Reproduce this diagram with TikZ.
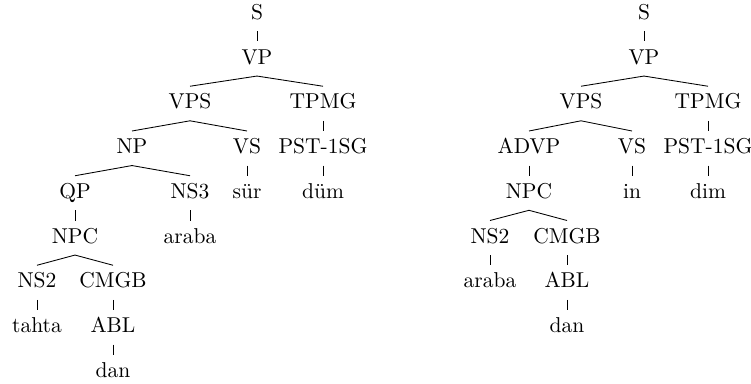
\documentclass[tikz,border=0pt]{standalone}
\usetikzlibrary{positioning}
\tikzset{cat/.style={text height=7pt, text depth=2pt, inner sep=3.333pt}}

\begin{document}
\begin{tikzpicture}[x=0.465pt, y=-20.81pt, every node/.style={cat}]
        \useasboundingbox (0,-0.313) rectangle (751,8.246);
        % first tree
        \node (l-S) at (257,0) {S};
        \node (l-VP) at (257,1) {VP};
        \node (l-VPS) at (190,2) {VPS};
        \node (l-TPMG) at (323,2) {TPMG};
        \node (l-NP) at (132,3) {NP};
        \node (l-VS) at (247,3) {VS};
        \node (l-PST) at (323,3) {PST-1SG};
        \node (l-QP) at (75,4) {QP};
        \node (l-NS3) at (190,4) {NS3};
        \node (l-sur) at (247,4) {sür};
        \node (l-dum) at (323,4) {düm};
        \node (l-NPC) at (75,5) {NPC};
        \node (l-araba) at (190,5) {araba};
        \node (l-NS2) at (37,6) {NS2};
        \node (l-CMGB) at (113,6) {CMGB};
        \node (l-tahta) at (37,7) {tahta};
        \node (l-ABL) at (113,7) {ABL};
        \node (l-dan) at (113,8) {dan};
        \draw (l-S.south) -- (l-VP.north);
        \draw (l-VPS.north) -- (l-VP.south) -- (l-TPMG.north);
        \draw (l-NP.north) -- (l-VPS.south) -- (l-VS.north);
        \draw (l-TPMG.south) -- (l-PST.north);
        \draw (l-QP.north) -- (l-NP.south) -- (l-NS3.north);
        \draw (l-VS.south) -- (l-sur.north);
        \draw (l-PST.south) -- (l-dum.north);
        \draw (l-QP.south) -- (l-NPC.north);
        \draw (l-NS3.south) -- (l-araba.north);
        \draw (l-NS2.north) -- (l-NPC.south) -- (l-CMGB.north);
        \draw (l-NS2.south) -- (l-tahta.north);
        \draw (l-CMGB.south) -- (l-ABL.north);
        \draw (l-ABL.south) -- (l-dan.north);
        % second tree
        \node (r-S) at (644,0) {S};
        \node (r-VP) at (644,1) {VP};
        \node (r-VPS) at (581,2) {VPS};
        \node (r-TPMG) at (708,2) {TPMG};
        \node (r-ADVP) at (529,3) {ADVP};
        \node (r-VS) at (632,3) {VS};
        \node (r-PST) at (708,3) {PST-1SG};
        \node (r-NPC) at (529,4) {NPC};
        \node (r-in) at (632,4) {in};
        \node (r-dim) at (708,4) {dim};
        \node (r-NS2) at (490,5) {NS2};
        \node (r-CMGB) at (567,5) {CMGB};
        \node (r-araba) at (490,6) {araba};
        \node (r-ABL) at (567,6) {ABL};
        \node (r-dan) at (567,7) {dan};
        \draw (r-S.south) -- (r-VP.north);
        \draw (r-VPS.north) -- (r-VP.south) -- (r-TPMG.north);
        \draw (r-ADVP.north) -- (r-VPS.south) -- (r-VS.north);
        \draw (r-TPMG.south) -- (r-PST.north);
        \draw (r-ADVP.south) -- (r-NPC.north);
        \draw (r-VS.south) -- (r-in.north);
        \draw (r-PST.south) -- (r-dim.north);
        \draw (r-NS2.north) -- (r-NPC.south) -- (r-CMGB.north);
        \draw (r-NS2.south) -- (r-araba.north);
        \draw (r-CMGB.south) -- (r-ABL.north);
        \draw (r-ABL.south) -- (r-dan.north);
      \end{tikzpicture}
\end{document}
